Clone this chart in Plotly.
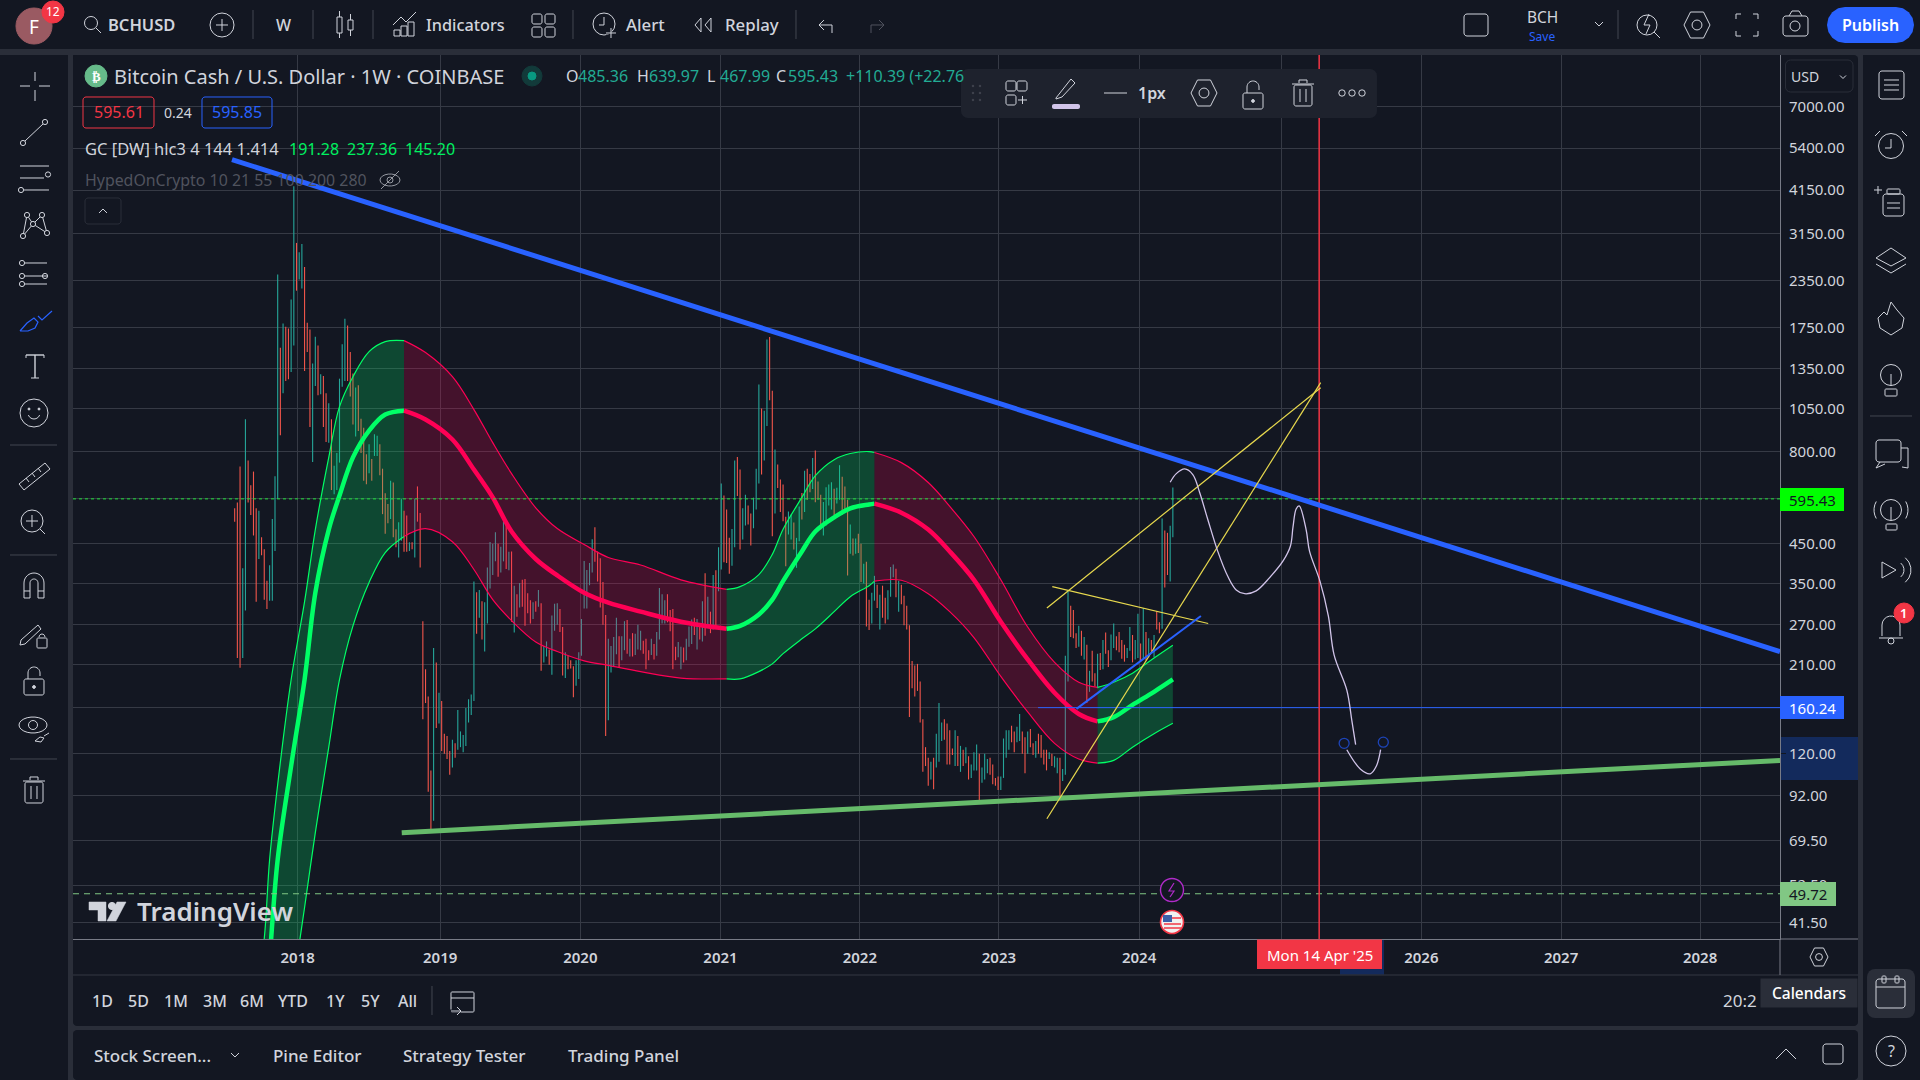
import numpy as np
import pandas as pd
import plotly.graph_objects as go

# weekly bars, BCHUSD
highs = [
    561,582,730,385,982,758,649,707,561,553,
    468,434,356,392,525,686,2442,1541,1794,1758,
    1739,2087,4252,2977,2809,2957,2561,1802,1727,1395,
    1650,1562,1303,1289,1157,1086,982,733,794,1268,
    1574,1848,1771,1499,1309,1199,1216,986,932,789,
    840,765,894,885,840,720,617,577,667,660,
    492,514,595,553,536,453,453,595,644,545,
    276,204,172,108,233,213,176,167,136,134,
    122,131,128,158,138,135,160,169,174,354,
    331,336,313,311,387,454,449,483,449,441,
    517,519,427,428,345,327,351,358,360,329,
    315,311,313,336,309,236,243,231,286,308,
    309,298,266,227,222,216,208,216,227,280,
    403,381,398,462,498,428,410,353,287,247,
    236,250,282,251,251,276,278,247,256,255,
    270,260,244,247,230,247,239,258,340,327,
    315,327,296,298,235,242,235,234,247,267,
    279,282,280,272,313,373,322,293,369,380,
    439,656,608,557,466,493,758,775,716,561,
    611,571,543,600,720,1222,1051,1037,1621,1649,
    1176,812,739,673,652,532,550,540,513,466,
    568,618,711,720,696,770,807,664,611,584,
    641,652,661,635,639,736,684,644,592,507,
    464,464,478,449,396,401,316,330,367,347,
    326,345,320,335,388,394,384,356,347,324,
    304,269,215,209,211,189,149,125,117,114,
    117,136,165,146,149,145,139,124,139,134,
    126,123,125,118,112,121,127,120,110,120,
    116,117,112,103,104,104,132,139,139,143,
    138,142,154,138,133,138,140,128,130,136,
    135,123,123,121,120,118,117,117,109,222,
    334,304,296,256,268,260,250,238,202,229,
    199,225,226,245,257,230,254,272,251,258,
    245,238,233,266,253,245,289,240,300,258,
    248,245,253,294,274,526,488,481,503,639.97,
]
lows = [
    516,219,206,219,295,582,538,473,312,408,
    418,316,298,314,314,429,595,888,1157,1250,
    1263,1323,1562,2205,2366,2236,1330,1499,936,751,
    1211,1142,1149,936,852,848,630,613,630,748,
    1206,1250,1250,1133,951,881,912,794,667,653,
    700,667,780,780,691,541,478,511,525,468,
    439,412,458,427,427,429,434,412,516,387,
    149,165,94.4,73.4,78.7,141,145,122,120,116,
    105,110,117,123,125,121,126,146,153,167,
    255,282,246,228,272,339,369,402,365,375,
    402,383,380,275,257,284,301,302,268,290,
    272,280,293,302,202,213,221,210,197,260,
    270,258,196,193,204,205,171,184,192,222,
    299,299,346,375,401,354,301,270,134,148,
    200,208,224,207,216,230,225,221,221,223,
    231,230,225,204,216,223,217,222,246,272,
    272,274,259,204,216,220,204,213,216,235,
    239,253,231,246,243,252,270,256,262,268,
    333,382,400,398,372,391,439,606,433,461,
    504,507,444,495,557,656,694,758,941,1107,
    471,543,638,548,517,390,476,461,433,386,
    456,523,548,592,621,634,583,592,491,473,
    504,571,557,536,578,592,539,545,368,422,
    417,422,424,353,350,267,261,272,314,300,
    262,282,272,279,322,364,321,293,307,269,
    262,151,181,172,178,146,107,111,98,102,
    96,110,114,130,131,112,112,119,111,111,
    107,111,113,102,103,108,108,88,100,102,
    106,105,99,98,95.5,95.5,103,117,123,129,
    121,129,130,120,106,120,125,119,117,120,
    117,112,108,116,111,110,106,90,101,105,
    189,250,248,233,235,222,217,165,177,189,
    183,181,203,204,225,207,216,233,230,227,
    218,214,219,229,213,217,219,214,218,216,
    220,228,220,262,256,263,341,369,354,467.99,
]
# u = up week, d = down week, ten to a block
directions = "".join([
    "ddduuddddu", "ddduuuudud", "duuduudddu", "ududduduuu", "uudddudddd",
    "uduuddddud", "duuddududd", "ddddududdd", "duduuuuuuu", "duduuuuudu",
    "ududududdd", "dududuuduu", "udduddduuu", "uuuudddddu", "uuuduududu",
    "uuddduduuu", "udddduuduu", "ududududud", "uuddduuddu", "udduuuduud",
    "dudddduudu", "ududdudddu", "uuuduudddu", "duddudduud", "udduuududd",
    "dddddddddu", "duuuddddud", "ududuuuduu", "udddduuuud", "duudduddud",
    "ddduduuduu", "udddududud", "dududduudd", "dduuduudud", "ududdudduu",
])

# Gaussian channel, sampled at week numbers of the bars above, one block per colour
g1_weeks = [8, 11, 13, 16, 21, 26, 30, 35, 39, 44, 50, 56, 63]
g1_upper = [25.6, 37.5, 61.7, 98.8, 191, 312, 491, 773, 1064, 1284, 1503, 1601, 1611]
g1_mid = [12.8, 21.2, 32.9, 61.7, 111, 191, 330, 491, 608, 773, 915, 1012, 1037]
g1_lower = [4.7, 6.6, 8.8, 13.6, 25.6, 45.6, 73, 125, 191, 268, 352, 425, 470]

r1_weeks = [63, 71, 81, 89, 96, 103, 112, 120, 130, 139, 151, 166, 183]
r1_upper = [1611, 1494, 1284, 1044, 848, 698, 563, 494, 447, 412, 393, 358, 337]
r1_mid = [1037, 981, 865, 716, 601, 485, 408, 368, 330, 310, 293, 275, 263]
r1_lower = [470, 494, 455, 382, 316, 277, 242, 228, 215, 209, 201, 193, 192]

g2_weeks = [183, 188, 195, 200, 204, 211, 216, 223, 229, 236, 238]
g2_upper = [337, 343, 370, 420, 492, 601, 689, 762, 792, 802, 797]
g2_mid = [263, 268, 288, 316, 355, 428, 485, 530, 561, 575, 578]
g2_lower = [192, 192, 201, 211, 225, 247, 263, 293, 322, 345, 355]

r2_weeks = [238, 248, 258, 266, 275, 285, 295, 305, 314, 321]
r2_upper = [797, 748, 660, 568, 470, 358, 266, 213, 188, 182]
r2_mid = [578, 546, 491, 428, 358, 275, 217, 176, 154, 147]
r2_lower = [355, 357, 328, 293, 249, 195, 156, 128, 116, 113]

g3_weeks = [321, 327, 334, 342, 349]
g3_upper = [182, 188, 199, 219, 237.36]
g3_mid = [147, 151, 163, 177, 191.28]
g3_lower = [113, 115, 125, 136, 145.20]

# drawings on the chart
blue_dates = ["2017-07-14", "2028-07-27"]
blue_prices = [5027, 228]
green_dates = ["2018-09-29", "2028-07-27"]
green_prices = [73, 115]
yellow_a_dates = ["2023-05-06", "2025-04-18"]
yellow_a_prices = [300, 1198]
yellow_b_dates = ["2023-05-06", "2025-04-18"]
yellow_b_prices = [79.7, 1237]
yellow_c_dates = ["2023-05-20", "2024-06-29"]
yellow_c_prices = [343, 272]
short_blue_dates = ["2023-07-22", "2024-06-10"]
short_blue_prices = [159, 285]
brush_dates = ["2024-03-22", "2024-04-07", "2024-04-29", "2024-05-20", "2024-06-07", "2024-06-28",
               "2024-07-24", "2024-08-19", "2024-09-10", "2024-10-02", "2024-11-01", "2024-12-06",
               "2025-01-10", "2025-01-29", "2025-02-05", "2025-02-13", "2025-02-21", "2025-03-11",
               "2025-03-20", "2025-04-16", "2025-05-08", "2025-05-23", "2025-06-25", "2025-07-08",
               "2025-07-18"]
brush_prices = [661, 698, 719, 694, 619, 523, 428, 366, 336, 328, 334, 363, 403, 442, 500, 559,
                570, 491, 428, 355, 285, 223, 179, 148, 127]
brush2_dates = ["2025-06-25", "2025-07-30", "2025-08-25", "2025-09-10", "2025-09-21"]
brush2_prices = [123, 109, 105.7, 111, 123]
anchor_dates = ["2025-06-18", "2025-09-28"]
anchor_prices = [128, 129]

last_price = 595.43
bid_line = 160.24
dash_line = 49.72
cursor_date = "2025-04-14"
hline_start = "2023-04-13"

# the first weekly bar of each year carries the grid line
year_dates = ["2018-01-01", "2019-01-07", "2020-01-07", "2021-01-06", "2022-01-04", "2023-01-01",
              "2024-01-01", "2025-01-05", "2026-01-05", "2027-01-04", "2028-01-01"]
year_labels = ["2018", "2019", "2020", "2021", "2022", "2023", "2024", "", "2026", "2027", "2028"]
price_ticks = [7000, 5400, 4150, 3150, 2350, 1750, 1350, 1050, 800, 450, 350, 270, 210, 120, 92, 69.5, 52.5, 41.5]

BG = "#131722"
GAP = "#2a2e39"
GRID = "#363a45"
TXT = "#d1d4dc"
TEAL = "#26a69a"
RED = "#f2564b"
BLUE = "#2962ff"
GREEN = "#00ff66"
PINK = "#ff0055"
YELLOW = "#e8d94e"
LAV = "#d1c4e9"
FONT = "Noto Sans"

# plot area in pixels
L, R, T, B = 73, 1780, 55, 939
X_RANGE = ["2016-05-26", "2028-07-27"]

bar_dates = pd.date_range("2017-07-21", periods=len(highs), freq="7D")
opens = [lo if d == "u" else hi for hi, lo, d in zip(highs, lows, directions)]
closes = [hi if d == "u" else lo for hi, lo, d in zip(highs, lows, directions)]

fig = go.Figure()
fig.add_trace(go.Ohlc(
    x=bar_dates, open=opens, high=highs, low=lows, close=closes, tickwidth=0,
    increasing=dict(line=dict(color=TEAL, width=1.1)),
    decreasing=dict(line=dict(color=RED, width=1.1)),
    hoverinfo="skip", showlegend=False,
))


def add_line(x, y, color, width, dash="solid", shape="linear", **kw):
    fig.add_trace(go.Scatter(x=x, y=y, mode="lines", showlegend=False, hoverinfo="skip",
                             line=dict(color=color, width=width, dash=dash, shape=shape), **kw))


def add_channel(weeks, upper, mid, lower, color, fill):
    x = bar_dates[weeks]
    add_line(x, upper, color, 1.2, shape="spline")
    add_line(x, lower, color, 1.2, shape="spline", fill="tonexty", fillcolor=fill)
    add_line(x, mid, color, 4.5, shape="spline")


GFILL = "rgba(0,230,105,0.24)"
RFILL = "rgba(255,0,85,0.21)"
add_channel(g1_weeks, g1_upper, g1_mid, g1_lower, GREEN, GFILL)
add_channel(r1_weeks, r1_upper, r1_mid, r1_lower, PINK, RFILL)
add_channel(g2_weeks, g2_upper, g2_mid, g2_lower, GREEN, GFILL)
add_channel(r2_weeks, r2_upper, r2_mid, r2_lower, PINK, RFILL)
add_channel(g3_weeks, g3_upper, g3_mid, g3_lower, GREEN, GFILL)

add_line(X_RANGE, [last_price, last_price], "#22e03a", 1, dash="dot")
add_line(X_RANGE, [dash_line, dash_line], "#81c784", 1, dash="6px,5px")
add_line([hline_start, X_RANGE[1]], [bid_line, bid_line], BLUE, 1)
add_line([cursor_date, cursor_date], [10 ** 3.987, 10 ** 1.573], "#f23645", 1.5)
add_line(blue_dates, blue_prices, BLUE, 5)
add_line(green_dates, green_prices, "#66bb6a", 5)
add_line(yellow_a_dates, yellow_a_prices, YELLOW, 1.2)
add_line(yellow_b_dates, yellow_b_prices, YELLOW, 1.2)
add_line(yellow_c_dates, yellow_c_prices, YELLOW, 1.2)
add_line(short_blue_dates, short_blue_prices, BLUE, 2)
add_line(brush_dates, brush_prices, LAV, 1.3, shape="spline")
add_line(brush2_dates, brush2_prices, LAV, 1.3, shape="spline")
fig.add_trace(go.Scatter(x=anchor_dates, y=anchor_prices, mode="markers", showlegend=False, hoverinfo="skip",
                         marker=dict(symbol="circle-open", size=10, color="#1d44b8", line=dict(width=1.3))))

# ---- everything around the chart is placed in screen pixels
shapes = []
notes = []


def px(x):
    return (x - L) / (R - L)


def py(y):
    return (B - y) / (B - T)


def path(d, color=TXT, w=1.0, fill=None, layer="above"):
    shapes.append(dict(type="path", path=d, xref="paper", yref="paper", layer=layer,
                       line=dict(color=color, width=w), fillcolor=fill or "rgba(0,0,0,0)"))


def poly(points, color=TXT, w=1.0, fill=None, closed=False, layer="above"):
    d = "M" + " L".join(f"{px(x):.5f},{py(y):.5f}" for x, y in points)
    path(d + (" Z" if closed else ""), color, w, fill, layer)


def arc(cx, cy, r, a0, a1, n=16, ry=None):
    t = np.radians(np.linspace(a0, a1, n))
    return list(zip(cx + r * np.cos(t), cy + (ry or r) * np.sin(t)))


def circle(cx, cy, r, color=TXT, w=1.0, fill=None):
    shapes.append(dict(type="circle", xref="paper", yref="paper", layer="above",
                       x0=px(cx - r), x1=px(cx + r), y0=py(cy + r), y1=py(cy - r),
                       line=dict(color=color, width=w), fillcolor=fill or "rgba(0,0,0,0)"))


def rect(x0, y0, x1, y1, color=None, fill=None, w=1.0, r=0, layer="above"):
    # no colour and no fill means an icon outline
    lc = color or ("rgba(0,0,0,0)" if fill else TXT)
    if r:
        pts = (arc(x1 - r, y0 + r, r, -90, 0, 5) + arc(x1 - r, y1 - r, r, 0, 90, 5)
               + arc(x0 + r, y1 - r, r, 90, 180, 5) + arc(x0 + r, y0 + r, r, 180, 270, 5))
        poly(pts, lc, w, fill, True, layer)
    else:
        shapes.append(dict(type="rect", xref="paper", yref="paper", layer=layer,
                           x0=px(x0), x1=px(x1), y0=py(y1), y1=py(y0),
                           line=dict(color=lc, width=0 if fill and not color else w),
                           fillcolor=fill or "rgba(0,0,0,0)"))


def text(x, y, s, size=15, color=TXT, anchor="left", weight=None, family=FONT, **kw):
    notes.append(dict(x=px(x), y=py(y), xref="paper", yref="paper", text=s, showarrow=False,
                      xanchor=anchor, yanchor="middle", borderpad=0,
                      font=dict(size=size, color=color, family=family, weight=weight), **kw))


def chevron(x, y, s=4, color=TXT, up=False, w=1.0):
    d = -s if up else s
    poly([(x - s, y - d / 2), (x, y + d / 2), (x + s, y - d / 2)], color, w)


def hexagon(x, y, r=11, color=TXT):
    poly([(x - r, y), (x - r / 2, y - r), (x + r / 2, y - r), (x + r, y), (x + r / 2, y + r), (x - r / 2, y + r)],
         color, closed=True)
    circle(x, y, r * 0.38, color)


def trash(x, y, h=12, color=TXT):
    rect(x - 9, y - h + 3, x + 9, y + h, color, r=2)
    poly([(x - 11, y - h + 2), (x + 11, y - h + 2)], color)
    poly([(x - 4, y - h + 1), (x - 4, y - h - 2), (x + 4, y - h - 2), (x + 4, y - h + 1)], color)
    poly([(x - 3, y - 5), (x - 3, y + 8)], color)
    poly([(x + 3, y - 5), (x + 3, y + 8)], color)


def lock(x, y, color=TXT):
    rect(x - 10, y - 3, x + 10, y + 13, color, r=2)
    poly(arc(x, y - 9, 6, 180, 360) + [(x + 6, y - 6)], color)
    poly([(x - 6, y - 9), (x - 6, y - 3)], color)
    circle(x, y + 5, 1.4, color, fill=color)


# panels
rect(0, 0, 1920, 49, fill=BG, layer="below")
rect(0, 55, 68, 1080, fill=BG, layer="below")
rect(73, 55, 1858, 1026, fill=BG, r=4, layer="below")
rect(73, 1030, 1858, 1080, fill=BG, r=4, layer="below")
rect(1863, 55, 1920, 1080, fill=BG, layer="below")
rect(1780, 737, 1858, 780, fill="#132a5c", layer="below")
rect(1340, 939, 1384, 975, fill="#132a5c", layer="below")
poly([(73, 975), (1858, 975)], GAP, 1.5, layer="below")
poly([(1780, 939), (1780, 975)], "#787b86", 1, layer="below")
poly([(1780, 939), (1858, 939)], "#787b86", 1, layer="below")

# top bar
circle(34, 26, 18, "#9a5a62", fill="#9a5a62")
text(34, 27, "F", 19, "#ffffff", "center")
circle(53, 12, 11, "#f23645", fill="#f23645")
text(53, 12, "12", 12, "#ffffff", "center")
circle(91, 23, 6.5)
poly([(96, 28), (101, 33)])
text(107, 25, "BCHUSD", 16.5, TXT, weight=600)
circle(222, 25, 12)
poly([(216, 25), (228, 25)])
poly([(222, 19), (222, 31)])
for x in [253, 313, 373, 573, 796, 1618]:
    poly([(x, 10), (x, 39)], "#434651")
text(283, 25, "W", 16, TXT, "center", weight=500)
rect(337, 17, 342, 33)
poly([(339.5, 11), (339.5, 17)])
poly([(339.5, 33), (339.5, 38)])
rect(348, 20, 353, 30)
poly([(350.5, 14), (350.5, 20)])
poly([(350.5, 30), (350.5, 36)])
poly([(393, 25), (401, 17), (406, 22), (416, 12)])
for x0, h in [(394, 6), (401, 10), (408, 14)]:
    rect(x0, 36 - h, x0 + 6, 36)
text(425, 25, "Indicators", 16.3, TXT, weight=500)
for cx, cy in [(537, 19), (550, 19), (537, 32), (550, 32)]:
    rect(cx - 5, cy - 5, cx + 5, cy + 5, r=2)
circle(604, 24, 11)
poly([(604, 17), (604, 25), (599, 25)])
poly([(606, 33), (616, 33)], BG, 3)
poly([(611, 28), (611, 38)])
poly([(606, 33), (616, 33)])
text(625, 25, "Alert", 16.8, TXT, weight=500)
poly([(701, 18), (695, 25), (701, 32), (701, 18)])
poly([(711, 18), (705, 25), (711, 32), (711, 18)])
text(724, 25, "Replay", 16.8, TXT, weight=500)
poly([(832, 33), (832, 25), (819, 25)])
poly([(824, 20), (819, 25), (824, 30)])
poly([(871, 33), (871, 25), (884, 25)], "#50535e")
poly([(879, 20), (884, 25), (879, 30)], "#50535e")
rect(1464, 14, 1488, 36, r=3)
text(1542, 17, "BCH", 15.5, TXT, "center")
text(1542, 36, "Save", 12, BLUE, "center")
chevron(1599, 24)
circle(1647, 25, 10)
poly([(1654, 32), (1660, 38)])
poly([(1649, 14), (1644, 25), (1650, 25), (1646, 34)])
hexagon(1697, 25, 13)
for sx, sy in [(1736, 14), (1758, 14), (1758, 36), (1736, 36)]:
    dx = 5 if sx < 1747 else -5
    dy = 5 if sy < 25 else -5
    poly([(sx, sy + dy), (sx, sy), (sx + dx, sy)])
rect(1783, 16, 1808, 36, r=3)
poly([(1789, 16), (1792, 11), (1799, 11), (1802, 16)])
circle(1795, 26, 5)
rect(1827, 7, 1914, 43, fill=BLUE, r=18)
text(1870, 25, "Publish", 16, "#ffffff", "center", weight=600)

# left tools
poly([(20, 86), (30, 86)])
poly([(39, 86), (50, 86)])
poly([(35, 72), (35, 81)])
poly([(35, 90), (35, 101)])
poly([(25, 141), (43, 124)])
circle(23, 143, 2.6)
circle(45, 122, 2.6)
for y, x0, x1 in [(166, 20, 49), (178, 20, 44), (190, 24, 49)]:
    poly([(x0, y), (x1, y)])
circle(48, 174.5, 2.6)
circle(21, 190, 2.6)
xabcd = [(23, 236), (27, 215), (33, 224), (42, 215), (47, 233)]
poly(xabcd)
poly([(23, 236), (33, 224)])
poly([(33, 224), (47, 233)])
for p in xabcd:
    circle(p[0], p[1], 2.6, fill=BG)
for y in [263, 276, 284]:
    poly([(25, y), (47, y)])
    circle(22, y, 2.6)
circle(45, 276, 2.6)
poly([(20, 331), (27, 323), (34, 318), (38, 322), (35, 328), (28, 331), (20, 331)], BLUE, 1.2)
poly([(38, 316), (42, 320), (52, 311)], BLUE, 1.2)
poly([(26, 355), (44, 355)], w=1.4)
poly([(35, 355), (35, 378)], w=1.4)
poly([(26, 355), (26, 358)])
poly([(44, 355), (44, 358)])
poly([(31, 378), (39, 378)])
circle(34, 413, 14)
circle(29, 409, 1, fill=TXT)
circle(39, 409, 1, fill=TXT)
poly(arc(34, 413, 6, 20, 160, 8))
poly([(19, 484), (45, 463), (50, 469), (24, 490)], closed=True)
for t_ in [(26, 478, 29, 482), (32, 473, 35, 477), (38, 468, 41, 472)]:
    poly([(t_[0], t_[1]), (t_[2], t_[3])])
circle(32, 521, 11)
poly([(40, 529), (45, 534)])
poly([(26, 521), (38, 521)])
poly([(32, 515), (32, 527)])
for y in [445, 555, 759]:
    poly([(10, y), (57, y)], "#434651")
poly([(24, 598)] + arc(34, 583, 10, 180, 360) + [(44, 598), (38, 598)] + arc(34, 583, 4, 360, 180) + [(30, 598), (24, 598)])
poly([(24, 591), (30, 591)])
poly([(38, 591), (44, 591)])
poly([(21, 640), (38, 625), (41, 629), (25, 644), (20, 645)], closed=True)
rect(37, 638, 47, 648, r=1)
poly(arc(42, 637, 3, 180, 360, 6))
lock(34, 682)
poly(arc(33, 725, 14, 180, 360, 12, ry=8) + arc(33, 725, 14, 0, 180, 12, ry=8), closed=True)
circle(33, 725, 4.5)
poly([(35, 741), (40, 737), (44, 738), (41, 742), (35, 741)])
poly([(44, 736), (49, 733)])
trash(34, 791)

# right tools
rect(1879, 71, 1904, 99, r=3)
for y in [80, 85, 90]:
    poly([(1884, y), (1899, y)])
circle(1891, 146, 12.5)
poly([(1891, 139), (1891, 148), (1885, 148)])
poly([(1880, 131), (1875, 136)])
poly([(1902, 131), (1907, 136)])
rect(1883, 194, 1904, 216, r=3)
rect(1887, 189, 1900, 194, r=1)
for y in [203, 208]:
    poly([(1887, y), (1900, y)])
poly([(1878, 186), (1878, 194)])
poly([(1874, 190), (1882, 190)])
poly([(1891, 248), (1906, 258), (1891, 266), (1876, 258)], closed=True)
poly([(1876, 264), (1891, 273), (1906, 264)])
poly([(1891, 302), (1897, 310), (1904, 318), (1902, 328), (1891, 335), (1880, 328), (1878, 318), (1884, 312), (1887, 315), (1891, 302)])
circle(1891, 375, 10.5)
rect(1885, 389, 1897, 396, r=1)
poly([(1891, 374), (1891, 386)])
poly([(1870, 416), (1912, 416)], "#434651")
rect(1876, 440, 1901, 462, r=3)
poly([(1880, 462), (1876, 468), (1885, 464)])
poly([(1901, 448), (1908, 448), (1908, 468), (1902, 467)])
circle(1891, 510, 10.5)
rect(1886, 524, 1897, 530, r=1)
poly([(1891, 507), (1891, 520)])
poly(arc(1891, 510, 17, 150, 210, 6))
poly(arc(1891, 510, 17, -30, 30, 6))
poly([(1882, 562), (1882, 578), (1896, 570)], closed=True)
poly(arc(1895, 570, 9, -50, 50, 6))
poly(arc(1895, 570, 16, -50, 50, 6))
poly(arc(1891, 625, 9, 180, 360, 10) + [(1900, 636)])
poly([(1882, 625), (1882, 636)])
poly([(1879, 638), (1903, 638)])
circle(1891, 641, 3)
circle(1904, 613, 10, "#f23645", fill="#f23645")
text(1904, 613, "1", 13, "#ffffff", "center", weight=600)
rect(1867, 969, 1915, 1018, fill=GAP, r=8)
rect(1876, 979, 1905, 1008, r=3)
poly([(1876, 987), (1905, 987)])
rect(1882, 976, 1886, 983, r=1)
rect(1895, 976, 1899, 983, r=1)
circle(1891, 1051, 15)
text(1891, 1051, "?", 16, TXT, "center")

# legend text
circle(96, 76, 11, "#66bb8a", fill="#66bb8a")
text(96, 76, "₿", 13, "#ffffff", "center", family="DejaVu Sans", weight=700)
text(113, 76, "Bitcoin Cash / U.S. Dollar · 1W · COINBASE", 20, TXT)
circle(532, 76, 10, "#123a3a", fill="#123a3a")
circle(532, 76, 4, "#089981", fill="#089981")
rect(83, 97, 154, 128, "#f23645", r=3)
text(118.5, 112, "595.61", 16, "#f23645", "center")
text(178, 112, "0.24", 14, TXT, "center")
rect(202, 97, 272, 128, BLUE, r=3)
text(237, 112, "595.85", 16, BLUE, "center")
for x, label_, value in [(564.5, "O", "485.36"), (635.5, "H", "639.97"), (706, "L", "467.99"), (774.5, "C", "595.43")]:
    text(x, 76, label_, 16, TXT)
    text(x + 12.5, 76, value, 16, "#22ab94")
text(845, 76, "+110.39 (+22.76", 16, "#22ab94")
text(84, 149, "GC [DW] hlc3 4 144 1.414", 16.5, TXT)
text(288, 149, "191.28", 16, "#00f060")
text(346, 149, "237.36", 16, "#00f060")
text(404, 149, "145.20", 16, "#00f060")
text(84, 180, "HypedOnCrypto 10 21 55 100 200 280", 15.9, "#50535e")
poly(arc(390, 180, 10, 180, 360, 10, ry=6) + arc(390, 180, 10, 0, 180, 10, ry=6), "#9598a1", closed=True)
circle(390, 180, 3, "#9598a1")
poly([(381, 189), (399, 171)], "#9598a1")
rect(85, 198, 121, 224, GAP, r=3)
chevron(103, 211, 4, up=True)

# floating drawing toolbar
rect(961, 69, 1377, 118, fill="#1e222d", r=7)
for x in [973, 980]:
    for y in [86, 93, 100]:
        circle(x, y, 0.8, "#434651", fill="#434651")
for cx, cy in [(1011, 86), (1022, 86), (1011, 100)]:
    rect(cx - 5, cy - 5, cx + 5, cy + 5, r=2)
poly([(1018, 100), (1027, 100)])
poly([(1022.5, 96), (1022.5, 104)])
poly([(1056, 98), (1071, 79), (1075, 83), (1062, 97), (1056, 99)], closed=True)
rect(1052, 104, 1080, 109, fill=LAV, r=2)
poly([(1104, 93), (1127, 93)])
text(1137, 93, "1px", 16, TXT, weight=600)
hexagon(1204, 93, 13)
lock(1253, 96)
trash(1303, 94)
for x in [1342, 1352, 1362]:
    circle(x, 93, 3.2)

# price and time tags
rect(1785.5, 60, 1853, 92, GAP, r=5)
text(1790, 76, "USD", 14, TXT)
chevron(1843, 77, 3)
rect(1780, 488, 1844, 511, fill="#00ff00")
text(1812, 499.5, "595.43", 15, "#131722", "center")
rect(1780, 696, 1844, 719, fill=BLUE)
text(1812, 707.5, "160.24", 15, "#ffffff", "center")
rect(1780, 882, 1836, 906, fill="#81c784")
text(1808, 894, "49.72", 15, "#131722", "center")
rect(1257, 939.5, 1382, 969, fill="#f23645")
text(1319.5, 955, "Mon 14 Apr '25", 15, "#ffffff", "center")
hexagon(1819, 957, 9)

# events on the bars
circle(1172, 890, 11.5, "#b02bc9", 1.4, BG)
poly([(1174, 883), (1169, 891), (1174, 891), (1170, 897)], "#b02bc9", 1.2)
circle(1172, 922, 11.5, "#f23645", 1.6, "#f0f0f0")
rect(1163, 915, 1172, 922, fill="#3c5fa8")
for y in [918, 924, 928]:
    poly([(1164 if y > 922 else 1172, y), (1181, y)], "#f23645", 1.5)

# watermark
poly([(89, 902), (106, 902), (106, 921), (98, 921), (98, 910), (89, 910)], "#d1d4dc", 0.5, "#d1d4dc", True)
circle(112, 906, 3.6, "#d1d4dc", fill="#d1d4dc")
poly([(117, 902), (126, 902), (116, 921), (107, 921)], "#d1d4dc", 0.5, "#d1d4dc", True)
text(136, 911, "TradingView", 26, "#d1d4dc", weight=600)

# range row and bottom panel
for x, s in [(91, "1D"), (127, "5D"), (163, "1M"), (202, "3M"), (239, "6M"), (277, "YTD"), (325, "1Y"), (360, "5Y"), (397, "All")]:
    text(x, 1001, s, 16, TXT, weight=500)
poly([(432, 986), (432, 1015)], "#434651")
rect(451, 992, 474, 1012, r=1)
poly([(451, 998), (474, 998)])
poly([(449, 1011), (461, 1011)], BG, 3)
poly([(451, 1011), (461, 1011)])
poly([(457, 1007), (461, 1011), (457, 1015)])
for x, s in [(93, "Stock Screen..."), (272, "Pine Editor"), (402, "Strategy Tester"), (567, "Trading Panel")]:
    text(x, 1055, s, 17, TXT, weight=500)
chevron(235, 1055, 4)
chevron(1786, 1054, 10, up=True)
rect(1823, 1044, 1843, 1064, r=3)
text(1722, 1000, "20:2", 17, TXT)
text(1809, 993, "Calendars", 15.5, "#ffffff", "center", weight=500,
     bgcolor=GAP, width=96, height=28)

fig.update_layout(
    width=1920, height=1080, autosize=False,
    margin=dict(l=L, r=1920 - R, t=T, b=1080 - B, pad=0),
    paper_bgcolor=GAP, plot_bgcolor=BG,
    font=dict(family=FONT, color=TXT, size=14.5),
    showlegend=False, hovermode=False,
    shapes=shapes, annotations=notes,
    xaxis=dict(
        type="date", range=X_RANGE, rangeslider=dict(visible=False),
        tickmode="array", tickvals=year_dates, ticktext=year_labels,
        showgrid=True, gridcolor=GRID, gridwidth=1, zeroline=False,
        showline=True, linecolor="#787b86", linewidth=1,
        ticks="outside", ticklen=5, tickcolor=BG, tickfont=dict(size=15, color=TXT, weight=600),
    ),
    yaxis=dict(
        type="log", range=[1.573, 3.987], side="right",
        tickmode="array", tickvals=price_ticks + [last_price, bid_line],
        ticktext=[f"{v:.2f}" for v in price_ticks] + ["", ""],
        showgrid=True, gridcolor=GRID, gridwidth=1, zeroline=False,
        showline=True, linecolor="#787b86", linewidth=1,
        ticks="outside", ticklen=5, tickcolor=BG, tickfont=dict(size=15, color=TXT),
    ),
)

fig.write_html("out.html", config=dict(displayModeBar=False),
               post_script="document.body.style.margin='0';document.body.style.overflow='hidden';")
